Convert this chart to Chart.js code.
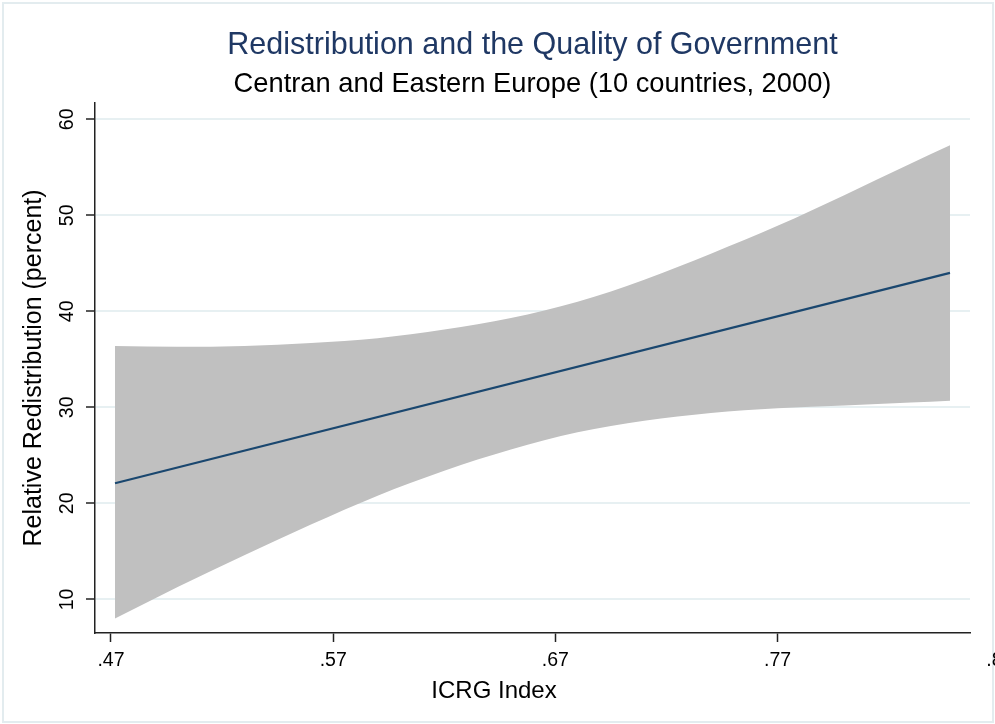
<!DOCTYPE html>
<html>
<head>
<meta charset="utf-8">
<script src="https://cdn.jsdelivr.net/npm/chart.js@4.4.1/dist/chart.umd.min.js"></script>
<style>
  html, body { margin: 0; padding: 0; background: #ffffff; overflow: hidden; }
  #wrap { width: 995px; height: 724px; position: relative; }
</style>
</head>
<body>
<div id="wrap"><canvas id="chart" width="995" height="724"></canvas></div>
<script>
// ICRG index values where the confidence band is evaluated
const icrg = [0.4718, 0.50, 0.53, 0.56, 0.59, 0.62, 0.65, 0.68, 0.71, 0.74, 0.77, 0.80, 0.83, 0.8476];
// 95% confidence band around the linear fit (percent)
const ciUpper = [36.4, 36.3, 36.4, 36.7, 37.2, 38.1, 39.3, 41.0, 43.3, 46.0, 48.9, 52.1, 55.4, 57.3];
const ciLower = [8.0, 11.3, 14.6, 17.8, 20.8, 23.4, 25.6, 27.4, 28.6, 29.4, 29.9, 30.2, 30.5, 30.7];
// Fitted line end points
const fitX = [0.4718, 0.8476];
const fitY = [22.1, 44.0];
// Axis ticks
const xTicks = [0.47, 0.57, 0.67, 0.77, 0.87];
const yTicks = [10, 20, 30, 40, 50, 60];

const titleText = 'Redistribution and the Quality of Government';
const subtitleText = 'Centran and Eastern Europe (10 countries, 2000)';
const xTitle = 'ICRG Index';
const yTitle = 'Relative Redistribution (percent)';

const FONT = "'Liberation Sans', Arial, sans-serif";

const toPoints = (xs, ys) => xs.map((x, i) => ({ x: x, y: ys[i] }));

// Background, light outer frame and the x-axis caption
const decor = {
  id: 'decor',
  beforeDraw(chart) {
    const ctx = chart.ctx;
    ctx.save();
    ctx.fillStyle = '#ffffff';
    ctx.fillRect(0, 0, chart.width, chart.height);
    ctx.strokeStyle = '#e3ecef';
    ctx.lineWidth = 2;
    ctx.strokeRect(3, 3, chart.width - 5, chart.height - 5);
    ctx.restore();
  },
  afterDraw(chart, args, opts) {
    const ctx = chart.ctx;
    ctx.save();
    ctx.font = opts.size + 'px ' + FONT;
    ctx.fillStyle = '#000000';
    ctx.textAlign = 'center';
    ctx.textBaseline = 'middle';
    ctx.fillText(opts.text, opts.x, opts.y);
    ctx.restore();
  }
};

new Chart(document.getElementById('chart'), {
  type: 'line',
  data: {
    datasets: [
      {
        label: 'Fitted values',
        data: toPoints(fitX, fitY),
        borderColor: '#1a476f',
        borderWidth: 2.2,
        pointRadius: 0,
        fill: false
      },
      {
        label: '95% CI upper',
        data: toPoints(icrg, ciUpper),
        borderColor: 'rgba(0,0,0,0)',
        borderWidth: 0,
        pointRadius: 0,
        backgroundColor: '#c0c0c0',
        cubicInterpolationMode: 'monotone',
        fill: '+1'
      },
      {
        label: '95% CI lower',
        data: toPoints(icrg, ciLower),
        borderColor: 'rgba(0,0,0,0)',
        borderWidth: 0,
        pointRadius: 0,
        cubicInterpolationMode: 'monotone',
        fill: false
      }
    ]
  },
  options: {
    responsive: false,
    animation: false,
    devicePixelRatio: 1,
    layout: { padding: { top: 0, left: 5, right: 25, bottom: 0 } },
    scales: {
      x: {
        type: 'linear',
        bounds: 'data',
        min: 0.4628,
        max: 0.8566,
        afterBuildTicks: s => { s.ticks = xTicks.map(v => ({ value: v })); },
        afterFit: s => { s.paddingLeft = 0; s.paddingRight = 0; s.height = 91; },
        ticks: {
          autoSkip: false,
          minRotation: 0,
          maxRotation: 0,
          padding: 7,
          color: '#000000',
          font: { family: FONT, size: 19.5 },
          callback: v => String(v).replace(/^0/, '')
        },
        grid: {
          drawOnChartArea: false,
          drawTicks: true,
          tickLength: 9,
          tickColor: '#222222',
          tickWidth: 1.5
        },
        border: { display: true, color: '#222222', width: 1.5 }
      },
      y: {
        type: 'linear',
        bounds: 'data',
        min: 6.5,
        max: 61.7,
        afterBuildTicks: s => { s.ticks = yTicks.map(v => ({ value: v })); },
        afterFit: s => { s.width = 90; s.paddingTop = 0; s.paddingBottom = 0; },
        ticks: {
          autoSkip: false,
          minRotation: 90,
          maxRotation: 90,
          crossAlign: 'center',
          padding: 8,
          color: '#000000',
          font: { family: FONT, size: 19.5 }
        },
        grid: {
          color: '#e7f0f2',
          lineWidth: 2,
          drawTicks: true,
          tickLength: 9,
          tickColor: '#222222',
          tickWidth: 1.5
        },
        border: { display: true, color: '#222222', width: 1.5 },
        title: {
          display: true,
          text: yTitle,
          color: '#000000',
          font: { family: FONT, size: 25 },
          padding: { top: 14, bottom: 0 }
        }
      }
    },
    plugins: {
      legend: { display: false },
      tooltip: { enabled: false },
      title: {
        display: true,
        text: titleText,
        color: '#1f3864',
        fullSize: false,
        font: { family: FONT, size: 30.5, weight: 'normal' },
        padding: { top: 27.7, bottom: 0 }
      },
      subtitle: {
        display: true,
        text: subtitleText,
        color: '#000000',
        fullSize: false,
        font: { family: FONT, size: 27.3, weight: 'normal' },
        padding: { top: 3.8, bottom: 2.1 }
      },
      decor: { text: xTitle, size: 24, x: 494, y: 691 }
    }
  },
  plugins: [decor]
});
</script>
</body>
</html>
